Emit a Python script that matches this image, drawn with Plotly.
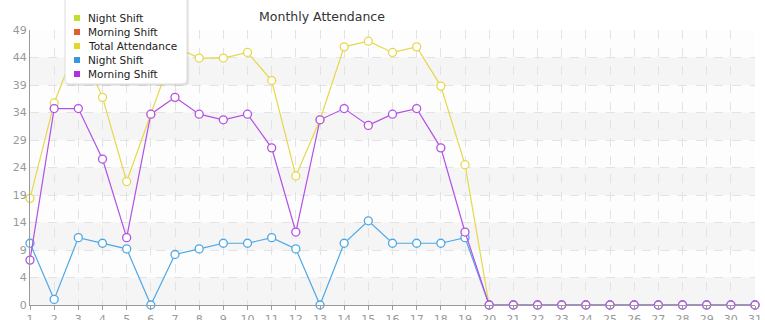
import math
import plotly.graph_objects as go

days = list(range(1, 32))
night_shift = [11, 1, 12, 11, 10, 0, 9, 10, 11, 11, 12, 10, 0, 11, 15, 11, 11, 11, 12] + [0] * 12
morning_shift = [8, 35, 35, 26, 12, 34, 37, 34, 33, 34, 28, 13, 33, 35, 32, 34, 35, 28, 13] + [0] * 12
total_attendance = [19, 36, 47, 37, 22, 34, 46, 44, 44, 45, 40, 23, 33, 46, 47, 45, 46, 39, 25] + [0] * 12

y_max = 49
y_tick_step = 4.9
y_tickvals = [round(i * y_tick_step, 2) for i in range(11)]
y_ticktext = [str(int(math.floor(v + 1e-9))) for v in y_tickvals]

legend_names = ["Night Shift", "Morning Shift", "Total Attendance", "Night Shift", "Morning Shift"]
legend_colors = ["#bfe02e", "#e0602a", "#e2d52c", "#3a96e0", "#b030e0"]

FONT = "DejaVu Sans"
W, H = 765, 320
ML, MR, MT, MB = 30, 10, 30, 15
PW, PH = W - ML - MR, H - MT - MB


def px_x(px):
    return (px - ML) / PW


def px_y(py):
    return (H - MB - py) / PH


fig = go.Figure()

# alternating background bands
for i in range(0, 10, 2):
    fig.add_shape(type="rect", xref="paper", yref="y", x0=0, x1=1,
                  y0=y_tickvals[i], y1=y_tickvals[i + 1],
                  fillcolor="#f5f5f5", line_width=0, layer="below")

series = [
    ("Total Attendance", total_attendance, "#e6d84c"),
    ("Night Shift", night_shift, "#4ea7e6"),
    ("Morning Shift", morning_shift, "#b450e4"),
]
for name, vals, col in series:
    fig.add_trace(go.Scatter(
        x=days, y=vals, mode="lines+markers", name=name, showlegend=False,
        line=dict(color=col, width=1.2),
        marker=dict(symbol="circle", size=8, color="white", line=dict(color=col, width=1.3)),
        cliponaxis=False,
    ))


def rounded_path(x0, y0, x1, y1, r):
    X = px_x
    Y = px_y
    return (f"M {X(x0 + r)} {Y(y0)} L {X(x1 - r)} {Y(y0)} "
            f"Q {X(x1)} {Y(y0)} {X(x1)} {Y(y0 + r)} L {X(x1)} {Y(y1 - r)} "
            f"Q {X(x1)} {Y(y1)} {X(x1 - r)} {Y(y1)} L {X(x0 + r)} {Y(y1)} "
            f"Q {X(x0)} {Y(y1)} {X(x0)} {Y(y1 - r)} L {X(x0)} {Y(y0 + r)} "
            f"Q {X(x0)} {Y(y0)} {X(x0 + r)} {Y(y0)} Z")


lx0, ly0, lx1, ly1 = 65, -6, 187, 84
fig.add_shape(type="path", xref="paper", yref="paper",
              path=rounded_path(lx0 + 1, ly0 + 1, lx1 + 2, ly1 + 2, 5),
              fillcolor="rgba(0,0,0,0.08)", line_width=0, layer="above")
fig.add_shape(type="path", xref="paper", yref="paper",
              path=rounded_path(lx0, ly0, lx1, ly1, 5),
              fillcolor="white", line=dict(color="#dcdcdc", width=1), layer="above")

for i, (name, col) in enumerate(zip(legend_names, legend_colors)):
    cy = 18 + 14 * i
    fig.add_shape(type="rect", xref="paper", yref="paper",
                  x0=px_x(74), x1=px_x(80), y0=px_y(cy - 3), y1=px_y(cy + 3),
                  fillcolor=col, line_width=0, layer="above")
    fig.add_annotation(x=px_x(86), y=px_y(cy), xref="paper", yref="paper",
                       text=name, showarrow=False, xanchor="left", yanchor="middle",
                       font=dict(family=FONT, size=10.5, color="#222222"))

fig.update_layout(
    width=W, height=H,
    margin=dict(l=ML, r=MR, t=MT, b=MB, autoexpand=False),
    paper_bgcolor="white",
    plot_bgcolor="#fdfdfd",
    font=dict(family=FONT, size=11, color="#999999"),
    title=dict(text="Monthly Attendance", x=px_x(322), xref="paper", xanchor="center",
               y=1 - 17 / H, yanchor="middle",
               font=dict(family=FONT, size=12.5, color="#333333")),
    showlegend=False,
)
fig.update_xaxes(
    range=[1, 31], tickvals=days, ticktext=[str(d) for d in days],
    showgrid=True, gridcolor="#e3e3e3", griddash="dash", gridwidth=1,
    showline=True, linecolor="#999999", linewidth=1,
    ticks="outside", ticklen=4, tickcolor="#999999",
    zeroline=False, tickfont=dict(size=11, color="#999999"), fixedrange=True,
    automargin=False,
)
fig.update_yaxes(
    range=[0, y_max], tickvals=y_tickvals, ticktext=y_ticktext,
    showgrid=True, gridcolor="#e3e3e3", griddash="dash", gridwidth=1,
    showline=True, linecolor="#999999", linewidth=1,
    ticks="", zeroline=False, tickfont=dict(size=11, color="#999999"), fixedrange=True,
    automargin=False,
)

fig.write_html("out.html")
